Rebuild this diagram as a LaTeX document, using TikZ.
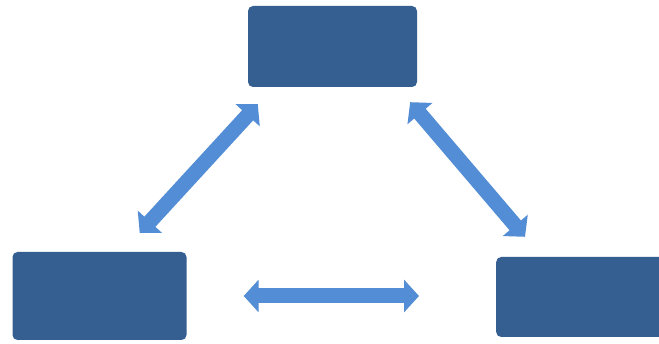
\documentclass[tikz,border=0pt]{standalone}
\usetikzlibrary{arrows.meta}
\definecolor{boxblue}{RGB}{54,95,145}
\definecolor{linkblue}{RGB}{83,141,213}
\tikzset{x=1pt, y=-1pt,
    block/.style={
        rectangle,
        rounded corners=5pt,
        fill=boxblue,
        draw=none,
        inner sep=0pt},
    link/.style={
        draw=linkblue,
        line width=15pt,
        {Triangle[width=32pt,length=15pt]}-{Triangle[width=32pt,length=15pt]}}}

\begin{document}
\begin{tikzpicture}
        \useasboundingbox (0,0) rectangle (659,344);
        \clip (0,0) rectangle (659,344);
        \fill[white] (0,0) rectangle (659,344);

        \node[block,minimum width=169pt,minimum height=81pt] (top) at (332.5,46.5) {};
        \node[block,minimum width=174pt,minimum height=88pt] (left) at (99.5,296) {};
        \node[block,minimum width=175pt,minimum height=80pt,anchor=west] (right) at (496,297) {};

        \draw[link] ([xshift=-47pt,yshift=19pt]left.north east) -- ([xshift=10pt,yshift=-17pt]top.south west);
        \draw[link] ([xshift=-7pt,yshift=-15pt]top.south east) -- ([xshift=29pt,yshift=20pt]right.north west);
        \draw[link,shorten <=57pt,shorten >=77pt] (left.east) -- (left.east -| right.west);
    \end{tikzpicture}
\end{document}
